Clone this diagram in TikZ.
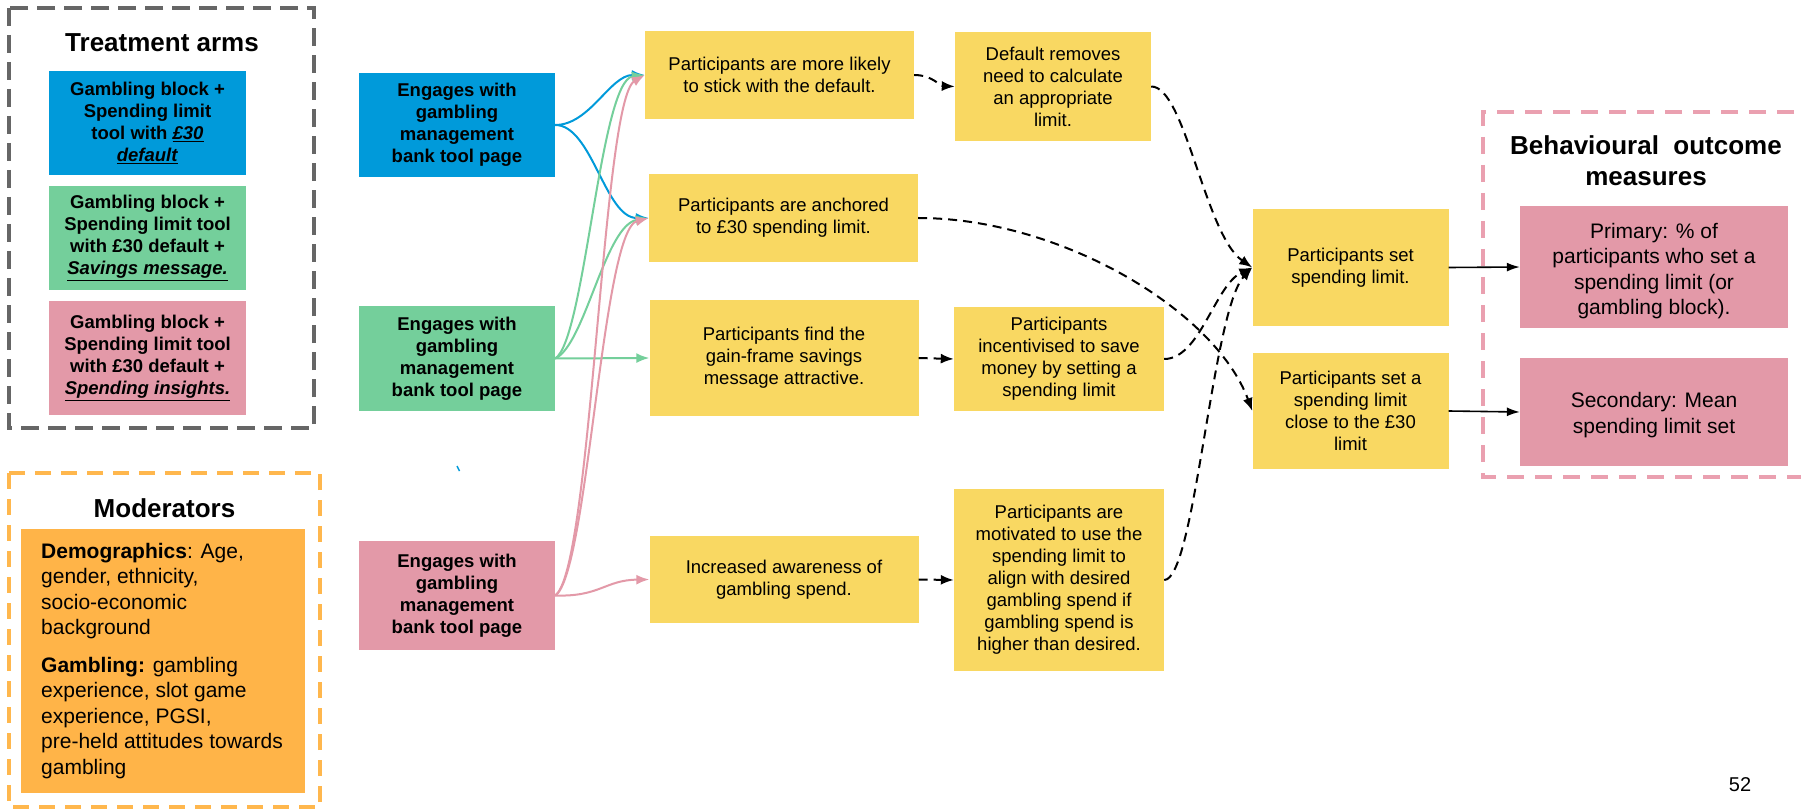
\documentclass[tikz,border=0pt]{standalone}
\usepackage{fontspec}
\setmainfont{Liberation Sans}
\usetikzlibrary{arrows.meta}
\definecolor{blueC}{RGB}{0,154,218}
\definecolor{greenC}{RGB}{116,207,155}
\definecolor{pinkC}{RGB}{227,153,168}
\definecolor{yelC}{RGB}{249,216,98}
\definecolor{orC}{RGB}{255,180,72}
\definecolor{frGrey}{RGB}{102,102,102}
\definecolor{frOr}{RGB}{255,183,77}
\definecolor{frPink}{RGB}{234,160,176}
\tikzset{
  bx/.style={rectangle, inner sep=0pt, align=center, text=black},
  yel/.style={bx, fill=yelC, font=\fontsize{18.5}{22}\selectfont},
  armbox/.style={bx, font=\bfseries\fontsize{18.5}{22}\selectfont},
  outbox/.style={bx, fill=pinkC, font=\fontsize{21}{25.5}\selectfont},
  ttl/.style={inner sep=0pt, anchor=base, align=center, font=\bfseries\fontsize{26}{31}\selectfont},
  modtxt/.style={inner sep=0pt, anchor=north west, align=left, font=\fontsize{21}{25.5}\selectfont},
  colarr/.style={line width=2pt, -{Latex[length=13pt,width=10pt]}},
  dasharr/.style={line width=2pt, dash pattern=on 9pt off 6pt, -{Latex[length=13pt,width=10pt]}},
  solarr/.style={line width=1.6pt, -{Latex[length=13pt,width=9pt]}},
}
\begin{document}
\begin{tikzpicture}[x=1pt,y=-1pt]
\useasboundingbox (0,0) rectangle (1801,810);
\fill[white] (0,0) rectangle (1801,810);

% frames
\draw[frGrey, line width=4pt, dash pattern=on 18pt off 9pt] (9,8) rectangle (314,428);
\draw[frOr, line width=4pt, dash pattern=on 16pt off 10pt] (9,473) rectangle (320,807);
\draw[frPink, line width=4pt, dash pattern=on 17pt off 11pt] (1850,112) -- (1483,112) -- (1483,477) -- (1850,477);

% titles
\node[ttl] (tTreat) at (162,52) {Treatment arms};
\node[ttl] (tMod) at (164.5,517) {Moderators};
\node[ttl] (tOut1) at (1646,155) {Behavioural\ \ outcome};
\node[ttl] (tOut2) at (1646,186) {measures};
\node[inner sep=0pt, anchor=base, font=\fontsize{20}{24}\selectfont] (pnum) at (1740,791) {52};

% treatment arms
\node[armbox, fill=blueC, minimum width=197pt, minimum height=104pt] (armA) at (147.5,123)
  {Gambling block +\\Spending limit\\tool with \underline{\textit{£30}}\\\underline{\textit{default}}};
\node[armbox, fill=greenC, minimum width=197pt, minimum height=104pt] (armB) at (147.5,238)
  {Gambling block +\\Spending limit tool\\with £30 default +\\\underline{\textit{Savings message.}}};
\node[armbox, fill=pinkC, minimum width=197pt, minimum height=114pt] (armC) at (147.5,358)
  {Gambling block +\\Spending limit tool\\with £30 default +\\\underline{\textit{Spending insights.}}};

% moderators
\node[bx, fill=orC, minimum width=284pt, minimum height=116pt] (mod1) at (163,587) {};
\node[bx, fill=orC, minimum width=284pt, minimum height=150pt] (mod2) at (163,717.5) {};
\node[modtxt] (mod1t) at (41,543) {\textbf{Demographics}: Age,\\gender, ethnicity,\\socio-economic\\background};
\node[modtxt] (mod2t) at (41,657) {\textbf{Gambling:} gambling\\experience, slot game\\experience, PGSI,\\pre-held attitudes towards\\gambling};

% engages
\node[armbox, fill=blueC, minimum width=196pt, minimum height=104pt] (engA) at (457,125)
  {Engages with\\gambling\\management\\bank tool page};
\node[armbox, fill=greenC, minimum width=196pt, minimum height=105pt] (engB) at (457,358.5)
  {Engages with\\gambling\\management\\bank tool page};
\node[armbox, fill=pinkC, minimum width=196pt, minimum height=109pt] (engC) at (457,595.5)
  {Engages with\\gambling\\management\\bank tool page};

% stray mark
\draw[blueC, line width=1.5pt] (457,466) -- (459.5,471);

% column 1
\node[yel, minimum width=269pt, minimum height=88pt] (y1) at (779.5,75)
  {Participants are more likely\\to stick with the default.};
\node[yel, minimum width=269pt, minimum height=88pt] (y2) at (783.5,218)
  {Participants are anchored\\to £30 spending limit.};
\node[yel, minimum width=269pt, minimum height=116pt] (y3) at (784,358)
  {Participants find the\\gain-frame savings\\message attractive.};
\node[yel, minimum width=269pt, minimum height=87pt] (y4) at (784,579.5)
  {Increased awareness of\\gambling spend.};

% column 2
\node[yel, minimum width=196pt, minimum height=109pt] (z1) at (1053,86.5)
  {Default removes\\need to calculate\\an appropriate\\limit.};
\node[yel, minimum width=210pt, minimum height=104pt] (z2) at (1059,359)
  {Participants\\incentivised to save\\money by setting a\\spending limit};
\node[yel, minimum width=210pt, minimum height=182pt] (z3) at (1059,580)
  {Participants are\\motivated to use the\\spending limit to\\align with desired\\gambling spend if\\gambling spend is\\higher than desired.};

% column 3
\node[yel, minimum width=196pt, minimum height=117pt] (w1) at (1350.5,267.5)
  {Participants set\\spending limit.};
\node[yel, minimum width=196pt, minimum height=116pt] (w2) at (1350.5,411)
  {Participants set a\\spending limit\\close to the £30\\limit};

% outcomes
\node[outbox, minimum width=268pt, minimum height=122pt] (p1) at (1654,267) {};
\node[outbox, anchor=center] (p1t) at (1654,271)
  {Primary: \% of\\participants who set a\\spending limit (or\\gambling block).};
\node[outbox, minimum width=268pt, minimum height=108pt] (p2) at (1654,412) {};
\node[outbox, anchor=center] (p2t) at (1654,415)
  {Secondary: Mean\\spending limit set};

% coloured connectors
\draw[colarr, blueC] (engA.east) .. controls (590,125) and (610,75) .. (y1.west);
\draw[colarr, blueC] (engA.east) .. controls (592,125) and (605,218) .. (y2.west);
\draw[colarr, greenC] (engB.east) .. controls (585,340) and (600,80) .. (y1.west);
\draw[colarr, greenC] (engB.east) .. controls (585,345) and (605,225) .. (y2.west);
\draw[colarr, greenC] (engB.east) -- (y3.west);
\draw[colarr, pinkC] (engC.east) .. controls (592,570) and (602,100) .. (y1.west);
\draw[colarr, pinkC] (engC.east) .. controls (588,575) and (602,230) .. (y2.west);
\draw[colarr, pinkC] (engC.east) .. controls (600,597) and (605,580) .. (y4.west);

% dashed connectors
\draw[dasharr] (y1.east) .. controls (932,75) and (940,86) .. (z1.west);
\draw[dasharr] (y3.east) -- (z2.west);
\draw[dasharr] (y4.east) -- (z3.west);
\draw[dasharr] (z1.east) .. controls (1185,86) and (1205,235) .. (w1.west);
\draw[dasharr] (z2.east) .. controls (1200,359) and (1215,285) .. (w1.west);
\draw[dasharr] (z3.east) .. controls (1195,580) and (1212,310) .. (w1.west);
\draw[dasharr] (y2.east) .. controls (1060,218) and (1215,310) .. (w2.west);

% solid connectors
\draw[solarr] (w1.east) -- (p1.west);
\draw[solarr] (w2.east) -- (p2.west);
\end{tikzpicture}
\end{document}
